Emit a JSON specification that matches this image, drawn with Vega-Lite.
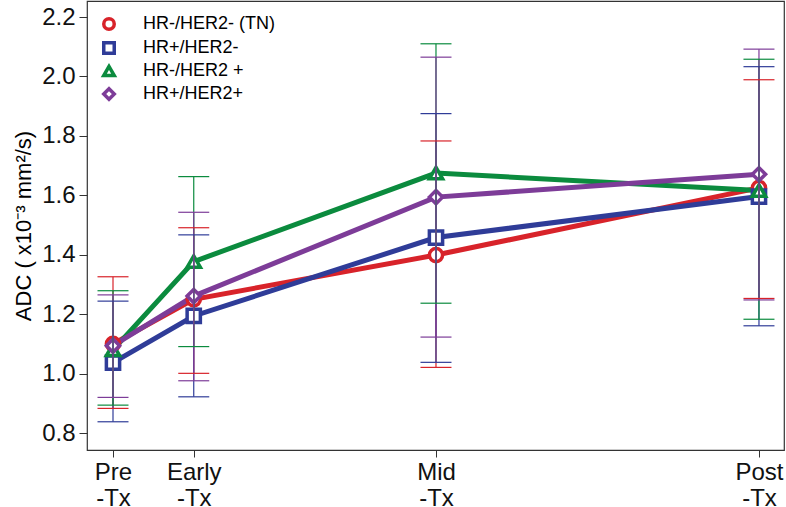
{
  "$schema": "https://vega.github.io/schema/vega-lite/v6.json",
  "autosize": {"type": "none"},
  "padding": {"left": 87, "top": 1, "right": 1, "bottom": 57},
  "width": 697,
  "height": 449,
  "config": {
    "font": "Liberation Sans",
    "view": {"stroke": "#333333", "strokeWidth": 1.2},
    "axis": {"grid": false, "domain": false, "tickColor": "#333333", "labelColor": "#111111", "labelFont": "Liberation Sans", "titleFont": "Liberation Sans"},
    "legend": {"labelFont": "Liberation Sans"}
  },
  "data": {
    "values": [
      {"group": "HR-/HER2- (TN)", "time": 0, "mean": 1.100, "lo": 0.883, "hi": 1.326},
      {"group": "HR-/HER2- (TN)", "time": 1, "mean": 1.250, "lo": 1.001, "hi": 1.491},
      {"group": "HR-/HER2- (TN)", "time": 4, "mean": 1.399, "lo": 1.021, "hi": 1.783},
      {"group": "HR-/HER2- (TN)", "time": 8, "mean": 1.625, "lo": 1.253, "hi": 1.989},
      {"group": "HR+/HER2-", "time": 0, "mean": 1.037, "lo": 0.838, "hi": 1.244},
      {"group": "HR+/HER2-", "time": 1, "mean": 1.194, "lo": 0.922, "hi": 1.467},
      {"group": "HR+/HER2-", "time": 4, "mean": 1.458, "lo": 1.038, "hi": 1.875},
      {"group": "HR+/HER2-", "time": 8, "mean": 1.596, "lo": 1.161, "hi": 2.033},
      {"group": "HR-/HER2 +", "time": 0, "mean": 1.080, "lo": 0.894, "hi": 1.279},
      {"group": "HR-/HER2 +", "time": 1, "mean": 1.377, "lo": 1.091, "hi": 1.663},
      {"group": "HR-/HER2 +", "time": 4, "mean": 1.675, "lo": 1.237, "hi": 2.110},
      {"group": "HR-/HER2 +", "time": 8, "mean": 1.616, "lo": 1.183, "hi": 2.058},
      {"group": "HR+/HER2+", "time": 0, "mean": 1.094, "lo": 0.920, "hi": 1.265},
      {"group": "HR+/HER2+", "time": 1, "mean": 1.261, "lo": 0.976, "hi": 1.543},
      {"group": "HR+/HER2+", "time": 4, "mean": 1.594, "lo": 1.123, "hi": 2.065},
      {"group": "HR+/HER2+", "time": 8, "mean": 1.671, "lo": 1.248, "hi": 2.092}
    ]
  },
  "encoding": {
    "x": {
      "field": "time", "type": "quantitative",
      "scale": {"domain": [-0.322, 8.31], "nice": false, "zero": false},
      "axis": {
        "title": null, "values": [0, 1, 4, 8],
        "labelExpr": "datum.value == 0 ? ['Pre', '-Tx'] : datum.value == 1 ? ['Early', '-Tx'] : datum.value == 4 ? ['Mid', '-Tx'] : ['Post', '-Tx']",
        "labelFontSize": 24, "labelLineHeight": 26, "tickSize": 7, "labelPadding": 3
      }
    },
    "color": {
      "field": "group", "type": "nominal",
      "scale": {
        "domain": ["HR-/HER2- (TN)", "HR+/HER2-", "HR-/HER2 +", "HR+/HER2+"],
        "range": ["#d8232a", "#2f3c98", "#0b8b3e", "#7d3c98"]
      },
      "legend": {
        "title": null, "orient": "none", "legendX": 13, "legendY": 14,
        "labelFontSize": 18, "symbolSize": 110, "symbolStrokeWidth": 3.5,
        "labelOffset": 25, "rowPadding": -2, "padding": 0
      }
    }
  },
  "layer": [
    {
      "mark": {"type": "line", "strokeWidth": 5},
      "encoding": {
        "y": {
          "field": "mean", "type": "quantitative",
          "scale": {"domain": [0.743, 2.254], "nice": false, "zero": false},
          "axis": {
            "title": "ADC ( x10⁻³ mm²/s)", "titleFontSize": 22, "titleFontWeight": "normal", "titlePadding": 6,
            "values": [0.8, 1.0, 1.2, 1.4, 1.6, 1.8, 2.0, 2.2], "format": ".1f",
            "labelFontSize": 24, "tickSize": 8, "labelPadding": 4
          }
        }
      }
    },
    {
      "mark": {"type": "point", "filled": false, "fill": "white", "fillOpacity": 1, "opacity": 1, "strokeWidth": 3.5, "size": 175},
      "encoding": {
        "y": {"field": "mean", "type": "quantitative"},
        "shape": {
          "field": "group", "type": "nominal",
          "scale": {
            "domain": ["HR-/HER2- (TN)", "HR+/HER2-", "HR-/HER2 +", "HR+/HER2+"],
            "range": ["circle", "square", "triangle-up", "diamond"]
          },
          "legend": {
            "title": null, "orient": "none", "legendX": 13, "legendY": 14,
            "labelFontSize": 18, "symbolSize": 110, "symbolStrokeWidth": 3.5,
            "labelOffset": 25, "rowPadding": -2, "padding": 0
          }
        }
      }
    },
    {
      "mark": {"type": "rule", "strokeWidth": 1.2},
      "encoding": {
        "y": {"field": "lo", "type": "quantitative"},
        "y2": {"field": "hi"}
      }
    },
    {
      "mark": {"type": "rule", "strokeWidth": 1.2, "xOffset": -15.5, "x2Offset": 15.5},
      "encoding": {
        "x2": {"field": "time"},
        "y": {"field": "hi", "type": "quantitative"}
      }
    },
    {
      "mark": {"type": "rule", "strokeWidth": 1.2, "xOffset": -15.5, "x2Offset": 15.5},
      "encoding": {
        "x2": {"field": "time"},
        "y": {"field": "lo", "type": "quantitative"}
      }
    }
  ]
}
